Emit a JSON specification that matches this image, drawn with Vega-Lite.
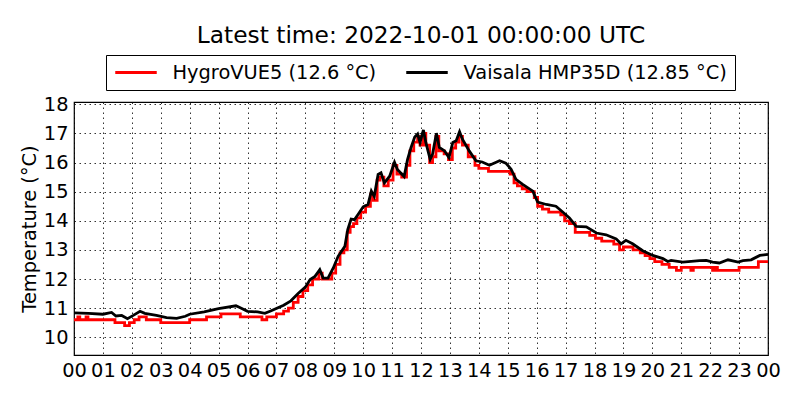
{
  "$schema": "https://vega.github.io/schema/vega-lite/v6.json",
  "description": "Air temperature from two sensors over one day.",
  "width": 694,
  "height": 253,
  "autosize": "none",
  "padding": {"left": 74, "top": 102, "right": 32, "bottom": 45},
  "background": "white",
  "title": {
    "text": "Latest time: 2022-10-01 00:00:00 UTC",
    "font": "DejaVu Sans",
    "fontSize": 23.3,
    "fontWeight": "normal",
    "color": "black",
    "anchor": "middle",
    "offset": 6
  },
  "config": {
    "font": "DejaVu Sans",
    "view": {"stroke": "black", "strokeWidth": 1.2},
    "axis": {
      "domain": false,
      "labelFont": "DejaVu Sans",
      "labelFontSize": 19.4,
      "labelColor": "black",
      "titleFont": "DejaVu Sans",
      "titleFontSize": 19.4,
      "titleFontWeight": "normal",
      "titleColor": "black",
      "ticks": false,
      "grid": true,
      "gridColor": "black",
      "gridDash": [1.5, 3.5],
      "gridWidth": 0.8
    }
  },
  "datasets": {
    "hours": [
      {"h": 1664496000000}, {"h": 1664499600000}, {"h": 1664503200000}, {"h": 1664506800000},
      {"h": 1664510400000}, {"h": 1664514000000}, {"h": 1664517600000}, {"h": 1664521200000},
      {"h": 1664524800000}, {"h": 1664528400000}, {"h": 1664532000000}, {"h": 1664535600000},
      {"h": 1664539200000}, {"h": 1664542800000}, {"h": 1664546400000}, {"h": 1664550000000},
      {"h": 1664553600000}, {"h": 1664557200000}, {"h": 1664560800000}, {"h": 1664564400000},
      {"h": 1664568000000}, {"h": 1664571600000}, {"h": 1664575200000}, {"h": 1664578800000},
      {"h": 1664582400000}
    ],
    "degrees": [
      {"d": 10}, {"d": 11}, {"d": 12}, {"d": 13}, {"d": 14}, {"d": 15}, {"d": 16}, {"d": 17}, {"d": 18}
    ]
  },
  "data": {
    "values": [
      {"t": "2022-09-30T00:00:00Z", "sensor": "HygroVUE5 (12.6 °C)", "v": 10.6},
      {"t": "2022-09-30T00:08:00Z", "sensor": "HygroVUE5 (12.6 °C)", "v": 10.7},
      {"t": "2022-09-30T00:12:00Z", "sensor": "HygroVUE5 (12.6 °C)", "v": 10.6},
      {"t": "2022-09-30T00:25:00Z", "sensor": "HygroVUE5 (12.6 °C)", "v": 10.7},
      {"t": "2022-09-30T00:29:00Z", "sensor": "HygroVUE5 (12.6 °C)", "v": 10.6},
      {"t": "2022-09-30T01:25:00Z", "sensor": "HygroVUE5 (12.6 °C)", "v": 10.5},
      {"t": "2022-09-30T01:45:00Z", "sensor": "HygroVUE5 (12.6 °C)", "v": 10.4},
      {"t": "2022-09-30T01:55:00Z", "sensor": "HygroVUE5 (12.6 °C)", "v": 10.5},
      {"t": "2022-09-30T02:05:00Z", "sensor": "HygroVUE5 (12.6 °C)", "v": 10.6},
      {"t": "2022-09-30T02:15:00Z", "sensor": "HygroVUE5 (12.6 °C)", "v": 10.7},
      {"t": "2022-09-30T02:30:00Z", "sensor": "HygroVUE5 (12.6 °C)", "v": 10.6},
      {"t": "2022-09-30T03:00:00Z", "sensor": "HygroVUE5 (12.6 °C)", "v": 10.5},
      {"t": "2022-09-30T04:00:00Z", "sensor": "HygroVUE5 (12.6 °C)", "v": 10.6},
      {"t": "2022-09-30T04:35:00Z", "sensor": "HygroVUE5 (12.6 °C)", "v": 10.7},
      {"t": "2022-09-30T05:05:00Z", "sensor": "HygroVUE5 (12.6 °C)", "v": 10.8},
      {"t": "2022-09-30T05:45:00Z", "sensor": "HygroVUE5 (12.6 °C)", "v": 10.7},
      {"t": "2022-09-30T06:30:00Z", "sensor": "HygroVUE5 (12.6 °C)", "v": 10.6},
      {"t": "2022-09-30T06:40:00Z", "sensor": "HygroVUE5 (12.6 °C)", "v": 10.7},
      {"t": "2022-09-30T07:00:00Z", "sensor": "HygroVUE5 (12.6 °C)", "v": 10.8},
      {"t": "2022-09-30T07:15:00Z", "sensor": "HygroVUE5 (12.6 °C)", "v": 10.9},
      {"t": "2022-09-30T07:25:00Z", "sensor": "HygroVUE5 (12.6 °C)", "v": 11.0},
      {"t": "2022-09-30T07:35:00Z", "sensor": "HygroVUE5 (12.6 °C)", "v": 11.2},
      {"t": "2022-09-30T07:45:00Z", "sensor": "HygroVUE5 (12.6 °C)", "v": 11.4},
      {"t": "2022-09-30T07:55:00Z", "sensor": "HygroVUE5 (12.6 °C)", "v": 11.6},
      {"t": "2022-09-30T08:05:00Z", "sensor": "HygroVUE5 (12.6 °C)", "v": 11.8},
      {"t": "2022-09-30T08:15:00Z", "sensor": "HygroVUE5 (12.6 °C)", "v": 12.0},
      {"t": "2022-09-30T08:28:00Z", "sensor": "HygroVUE5 (12.6 °C)", "v": 12.2},
      {"t": "2022-09-30T08:35:00Z", "sensor": "HygroVUE5 (12.6 °C)", "v": 12.0},
      {"t": "2022-09-30T08:55:00Z", "sensor": "HygroVUE5 (12.6 °C)", "v": 12.2},
      {"t": "2022-09-30T09:03:00Z", "sensor": "HygroVUE5 (12.6 °C)", "v": 12.5},
      {"t": "2022-09-30T09:12:00Z", "sensor": "HygroVUE5 (12.6 °C)", "v": 12.9},
      {"t": "2022-09-30T09:20:00Z", "sensor": "HygroVUE5 (12.6 °C)", "v": 13.0},
      {"t": "2022-09-30T09:27:00Z", "sensor": "HygroVUE5 (12.6 °C)", "v": 13.6},
      {"t": "2022-09-30T09:33:00Z", "sensor": "HygroVUE5 (12.6 °C)", "v": 13.8},
      {"t": "2022-09-30T09:40:00Z", "sensor": "HygroVUE5 (12.6 °C)", "v": 13.9},
      {"t": "2022-09-30T09:47:00Z", "sensor": "HygroVUE5 (12.6 °C)", "v": 14.1},
      {"t": "2022-09-30T09:55:00Z", "sensor": "HygroVUE5 (12.6 °C)", "v": 14.3},
      {"t": "2022-09-30T10:05:00Z", "sensor": "HygroVUE5 (12.6 °C)", "v": 14.5},
      {"t": "2022-09-30T10:15:00Z", "sensor": "HygroVUE5 (12.6 °C)", "v": 14.9},
      {"t": "2022-09-30T10:21:00Z", "sensor": "HygroVUE5 (12.6 °C)", "v": 14.7},
      {"t": "2022-09-30T10:29:00Z", "sensor": "HygroVUE5 (12.6 °C)", "v": 15.4},
      {"t": "2022-09-30T10:35:00Z", "sensor": "HygroVUE5 (12.6 °C)", "v": 15.5},
      {"t": "2022-09-30T10:43:00Z", "sensor": "HygroVUE5 (12.6 °C)", "v": 15.2},
      {"t": "2022-09-30T10:52:00Z", "sensor": "HygroVUE5 (12.6 °C)", "v": 15.4},
      {"t": "2022-09-30T11:02:00Z", "sensor": "HygroVUE5 (12.6 °C)", "v": 15.9},
      {"t": "2022-09-30T11:10:00Z", "sensor": "HygroVUE5 (12.6 °C)", "v": 15.6},
      {"t": "2022-09-30T11:20:00Z", "sensor": "HygroVUE5 (12.6 °C)", "v": 15.5},
      {"t": "2022-09-30T11:30:00Z", "sensor": "HygroVUE5 (12.6 °C)", "v": 15.9},
      {"t": "2022-09-30T11:37:00Z", "sensor": "HygroVUE5 (12.6 °C)", "v": 16.4},
      {"t": "2022-09-30T11:45:00Z", "sensor": "HygroVUE5 (12.6 °C)", "v": 16.7},
      {"t": "2022-09-30T11:53:00Z", "sensor": "HygroVUE5 (12.6 °C)", "v": 16.9},
      {"t": "2022-09-30T11:58:00Z", "sensor": "HygroVUE5 (12.6 °C)", "v": 16.6},
      {"t": "2022-09-30T12:05:00Z", "sensor": "HygroVUE5 (12.6 °C)", "v": 17.0},
      {"t": "2022-09-30T12:10:00Z", "sensor": "HygroVUE5 (12.6 °C)", "v": 16.6},
      {"t": "2022-09-30T12:18:00Z", "sensor": "HygroVUE5 (12.6 °C)", "v": 16.0},
      {"t": "2022-09-30T12:24:00Z", "sensor": "HygroVUE5 (12.6 °C)", "v": 16.2},
      {"t": "2022-09-30T12:31:00Z", "sensor": "HygroVUE5 (12.6 °C)", "v": 16.9},
      {"t": "2022-09-30T12:37:00Z", "sensor": "HygroVUE5 (12.6 °C)", "v": 16.4},
      {"t": "2022-09-30T12:48:00Z", "sensor": "HygroVUE5 (12.6 °C)", "v": 16.3},
      {"t": "2022-09-30T12:57:00Z", "sensor": "HygroVUE5 (12.6 °C)", "v": 16.1},
      {"t": "2022-09-30T13:05:00Z", "sensor": "HygroVUE5 (12.6 °C)", "v": 16.5},
      {"t": "2022-09-30T13:12:00Z", "sensor": "HygroVUE5 (12.6 °C)", "v": 16.7},
      {"t": "2022-09-30T13:19:00Z", "sensor": "HygroVUE5 (12.6 °C)", "v": 16.9},
      {"t": "2022-09-30T13:26:00Z", "sensor": "HygroVUE5 (12.6 °C)", "v": 16.6},
      {"t": "2022-09-30T13:38:00Z", "sensor": "HygroVUE5 (12.6 °C)", "v": 16.2},
      {"t": "2022-09-30T13:52:00Z", "sensor": "HygroVUE5 (12.6 °C)", "v": 15.9},
      {"t": "2022-09-30T14:00:00Z", "sensor": "HygroVUE5 (12.6 °C)", "v": 15.8},
      {"t": "2022-09-30T14:20:00Z", "sensor": "HygroVUE5 (12.6 °C)", "v": 15.7},
      {"t": "2022-09-30T15:05:00Z", "sensor": "HygroVUE5 (12.6 °C)", "v": 15.6},
      {"t": "2022-09-30T15:13:00Z", "sensor": "HygroVUE5 (12.6 °C)", "v": 15.3},
      {"t": "2022-09-30T15:20:00Z", "sensor": "HygroVUE5 (12.6 °C)", "v": 15.2},
      {"t": "2022-09-30T15:30:00Z", "sensor": "HygroVUE5 (12.6 °C)", "v": 15.1},
      {"t": "2022-09-30T15:40:00Z", "sensor": "HygroVUE5 (12.6 °C)", "v": 15.0},
      {"t": "2022-09-30T15:55:00Z", "sensor": "HygroVUE5 (12.6 °C)", "v": 14.8},
      {"t": "2022-09-30T16:02:00Z", "sensor": "HygroVUE5 (12.6 °C)", "v": 14.5},
      {"t": "2022-09-30T16:12:00Z", "sensor": "HygroVUE5 (12.6 °C)", "v": 14.4},
      {"t": "2022-09-30T16:25:00Z", "sensor": "HygroVUE5 (12.6 °C)", "v": 14.3},
      {"t": "2022-09-30T16:50:00Z", "sensor": "HygroVUE5 (12.6 °C)", "v": 14.2},
      {"t": "2022-09-30T16:58:00Z", "sensor": "HygroVUE5 (12.6 °C)", "v": 14.0},
      {"t": "2022-09-30T17:08:00Z", "sensor": "HygroVUE5 (12.6 °C)", "v": 13.9},
      {"t": "2022-09-30T17:20:00Z", "sensor": "HygroVUE5 (12.6 °C)", "v": 13.6},
      {"t": "2022-09-30T17:50:00Z", "sensor": "HygroVUE5 (12.6 °C)", "v": 13.5},
      {"t": "2022-09-30T18:02:00Z", "sensor": "HygroVUE5 (12.6 °C)", "v": 13.4},
      {"t": "2022-09-30T18:15:00Z", "sensor": "HygroVUE5 (12.6 °C)", "v": 13.3},
      {"t": "2022-09-30T18:40:00Z", "sensor": "HygroVUE5 (12.6 °C)", "v": 13.2},
      {"t": "2022-09-30T18:52:00Z", "sensor": "HygroVUE5 (12.6 °C)", "v": 13.0},
      {"t": "2022-09-30T19:00:00Z", "sensor": "HygroVUE5 (12.6 °C)", "v": 13.1},
      {"t": "2022-09-30T19:20:00Z", "sensor": "HygroVUE5 (12.6 °C)", "v": 13.0},
      {"t": "2022-09-30T19:35:00Z", "sensor": "HygroVUE5 (12.6 °C)", "v": 12.9},
      {"t": "2022-09-30T19:45:00Z", "sensor": "HygroVUE5 (12.6 °C)", "v": 12.8},
      {"t": "2022-09-30T19:55:00Z", "sensor": "HygroVUE5 (12.6 °C)", "v": 12.7},
      {"t": "2022-09-30T20:05:00Z", "sensor": "HygroVUE5 (12.6 °C)", "v": 12.6},
      {"t": "2022-09-30T20:20:00Z", "sensor": "HygroVUE5 (12.6 °C)", "v": 12.5},
      {"t": "2022-09-30T20:35:00Z", "sensor": "HygroVUE5 (12.6 °C)", "v": 12.4},
      {"t": "2022-09-30T20:50:00Z", "sensor": "HygroVUE5 (12.6 °C)", "v": 12.3},
      {"t": "2022-09-30T21:00:00Z", "sensor": "HygroVUE5 (12.6 °C)", "v": 12.4},
      {"t": "2022-09-30T21:20:00Z", "sensor": "HygroVUE5 (12.6 °C)", "v": 12.3},
      {"t": "2022-09-30T21:25:00Z", "sensor": "HygroVUE5 (12.6 °C)", "v": 12.4},
      {"t": "2022-09-30T22:05:00Z", "sensor": "HygroVUE5 (12.6 °C)", "v": 12.3},
      {"t": "2022-09-30T22:10:00Z", "sensor": "HygroVUE5 (12.6 °C)", "v": 12.4},
      {"t": "2022-09-30T22:15:00Z", "sensor": "HygroVUE5 (12.6 °C)", "v": 12.3},
      {"t": "2022-09-30T23:00:00Z", "sensor": "HygroVUE5 (12.6 °C)", "v": 12.4},
      {"t": "2022-09-30T23:40:00Z", "sensor": "HygroVUE5 (12.6 °C)", "v": 12.6},
      {"t": "2022-10-01T00:00:00Z", "sensor": "HygroVUE5 (12.6 °C)", "v": 12.6},
      {"t": "2022-09-30T00:00:00Z", "sensor": "Vaisala HMP35D (12.85 °C)", "v": 10.84},
      {"t": "2022-09-30T00:30:00Z", "sensor": "Vaisala HMP35D (12.85 °C)", "v": 10.82},
      {"t": "2022-09-30T01:00:00Z", "sensor": "Vaisala HMP35D (12.85 °C)", "v": 10.79},
      {"t": "2022-09-30T01:18:00Z", "sensor": "Vaisala HMP35D (12.85 °C)", "v": 10.85},
      {"t": "2022-09-30T01:27:00Z", "sensor": "Vaisala HMP35D (12.85 °C)", "v": 10.73},
      {"t": "2022-09-30T01:39:00Z", "sensor": "Vaisala HMP35D (12.85 °C)", "v": 10.75},
      {"t": "2022-09-30T01:51:00Z", "sensor": "Vaisala HMP35D (12.85 °C)", "v": 10.64},
      {"t": "2022-09-30T02:03:00Z", "sensor": "Vaisala HMP35D (12.85 °C)", "v": 10.75},
      {"t": "2022-09-30T02:17:00Z", "sensor": "Vaisala HMP35D (12.85 °C)", "v": 10.89},
      {"t": "2022-09-30T02:27:00Z", "sensor": "Vaisala HMP35D (12.85 °C)", "v": 10.82},
      {"t": "2022-09-30T02:51:00Z", "sensor": "Vaisala HMP35D (12.85 °C)", "v": 10.75},
      {"t": "2022-09-30T03:12:00Z", "sensor": "Vaisala HMP35D (12.85 °C)", "v": 10.67},
      {"t": "2022-09-30T03:33:00Z", "sensor": "Vaisala HMP35D (12.85 °C)", "v": 10.65},
      {"t": "2022-09-30T03:51:00Z", "sensor": "Vaisala HMP35D (12.85 °C)", "v": 10.72},
      {"t": "2022-09-30T04:00:00Z", "sensor": "Vaisala HMP35D (12.85 °C)", "v": 10.79},
      {"t": "2022-09-30T04:30:00Z", "sensor": "Vaisala HMP35D (12.85 °C)", "v": 10.87},
      {"t": "2022-09-30T05:00:00Z", "sensor": "Vaisala HMP35D (12.85 °C)", "v": 10.98},
      {"t": "2022-09-30T05:36:00Z", "sensor": "Vaisala HMP35D (12.85 °C)", "v": 11.08},
      {"t": "2022-09-30T05:45:00Z", "sensor": "Vaisala HMP35D (12.85 °C)", "v": 11.01},
      {"t": "2022-09-30T06:00:00Z", "sensor": "Vaisala HMP35D (12.85 °C)", "v": 10.89},
      {"t": "2022-09-30T06:21:00Z", "sensor": "Vaisala HMP35D (12.85 °C)", "v": 10.87},
      {"t": "2022-09-30T06:36:00Z", "sensor": "Vaisala HMP35D (12.85 °C)", "v": 10.82},
      {"t": "2022-09-30T06:48:00Z", "sensor": "Vaisala HMP35D (12.85 °C)", "v": 10.9},
      {"t": "2022-09-30T07:15:00Z", "sensor": "Vaisala HMP35D (12.85 °C)", "v": 11.1},
      {"t": "2022-09-30T07:30:00Z", "sensor": "Vaisala HMP35D (12.85 °C)", "v": 11.25},
      {"t": "2022-09-30T07:45:00Z", "sensor": "Vaisala HMP35D (12.85 °C)", "v": 11.5},
      {"t": "2022-09-30T08:00:00Z", "sensor": "Vaisala HMP35D (12.85 °C)", "v": 11.72},
      {"t": "2022-09-30T08:10:00Z", "sensor": "Vaisala HMP35D (12.85 °C)", "v": 11.98},
      {"t": "2022-09-30T08:20:00Z", "sensor": "Vaisala HMP35D (12.85 °C)", "v": 12.09},
      {"t": "2022-09-30T08:30:00Z", "sensor": "Vaisala HMP35D (12.85 °C)", "v": 12.32},
      {"t": "2022-09-30T08:37:00Z", "sensor": "Vaisala HMP35D (12.85 °C)", "v": 12.03},
      {"t": "2022-09-30T08:47:00Z", "sensor": "Vaisala HMP35D (12.85 °C)", "v": 12.03},
      {"t": "2022-09-30T08:58:00Z", "sensor": "Vaisala HMP35D (12.85 °C)", "v": 12.38},
      {"t": "2022-09-30T09:08:00Z", "sensor": "Vaisala HMP35D (12.85 °C)", "v": 12.78},
      {"t": "2022-09-30T09:22:00Z", "sensor": "Vaisala HMP35D (12.85 °C)", "v": 13.12},
      {"t": "2022-09-30T09:28:00Z", "sensor": "Vaisala HMP35D (12.85 °C)", "v": 13.7},
      {"t": "2022-09-30T09:35:00Z", "sensor": "Vaisala HMP35D (12.85 °C)", "v": 14.06},
      {"t": "2022-09-30T09:42:00Z", "sensor": "Vaisala HMP35D (12.85 °C)", "v": 14.04},
      {"t": "2022-09-30T09:49:00Z", "sensor": "Vaisala HMP35D (12.85 °C)", "v": 14.21},
      {"t": "2022-09-30T10:00:00Z", "sensor": "Vaisala HMP35D (12.85 °C)", "v": 14.48},
      {"t": "2022-09-30T10:10:00Z", "sensor": "Vaisala HMP35D (12.85 °C)", "v": 14.56},
      {"t": "2022-09-30T10:17:00Z", "sensor": "Vaisala HMP35D (12.85 °C)", "v": 15.02},
      {"t": "2022-09-30T10:23:00Z", "sensor": "Vaisala HMP35D (12.85 °C)", "v": 14.84},
      {"t": "2022-09-30T10:31:00Z", "sensor": "Vaisala HMP35D (12.85 °C)", "v": 15.59},
      {"t": "2022-09-30T10:37:00Z", "sensor": "Vaisala HMP35D (12.85 °C)", "v": 15.65},
      {"t": "2022-09-30T10:44:00Z", "sensor": "Vaisala HMP35D (12.85 °C)", "v": 15.3},
      {"t": "2022-09-30T10:55:00Z", "sensor": "Vaisala HMP35D (12.85 °C)", "v": 15.53},
      {"t": "2022-09-30T11:05:00Z", "sensor": "Vaisala HMP35D (12.85 °C)", "v": 16.01},
      {"t": "2022-09-30T11:11:00Z", "sensor": "Vaisala HMP35D (12.85 °C)", "v": 15.76},
      {"t": "2022-09-30T11:25:00Z", "sensor": "Vaisala HMP35D (12.85 °C)", "v": 15.52},
      {"t": "2022-09-30T11:32:00Z", "sensor": "Vaisala HMP35D (12.85 °C)", "v": 16.1},
      {"t": "2022-09-30T11:39:00Z", "sensor": "Vaisala HMP35D (12.85 °C)", "v": 16.5},
      {"t": "2022-09-30T11:47:00Z", "sensor": "Vaisala HMP35D (12.85 °C)", "v": 16.88},
      {"t": "2022-09-30T11:53:00Z", "sensor": "Vaisala HMP35D (12.85 °C)", "v": 16.98},
      {"t": "2022-09-30T11:58:00Z", "sensor": "Vaisala HMP35D (12.85 °C)", "v": 16.69},
      {"t": "2022-09-30T12:05:00Z", "sensor": "Vaisala HMP35D (12.85 °C)", "v": 17.12},
      {"t": "2022-09-30T12:10:00Z", "sensor": "Vaisala HMP35D (12.85 °C)", "v": 16.69},
      {"t": "2022-09-30T12:19:00Z", "sensor": "Vaisala HMP35D (12.85 °C)", "v": 16.11},
      {"t": "2022-09-30T12:24:00Z", "sensor": "Vaisala HMP35D (12.85 °C)", "v": 16.29},
      {"t": "2022-09-30T12:32:00Z", "sensor": "Vaisala HMP35D (12.85 °C)", "v": 17.01},
      {"t": "2022-09-30T12:38:00Z", "sensor": "Vaisala HMP35D (12.85 °C)", "v": 16.52},
      {"t": "2022-09-30T12:49:00Z", "sensor": "Vaisala HMP35D (12.85 °C)", "v": 16.4},
      {"t": "2022-09-30T12:58:00Z", "sensor": "Vaisala HMP35D (12.85 °C)", "v": 16.17},
      {"t": "2022-09-30T13:06:00Z", "sensor": "Vaisala HMP35D (12.85 °C)", "v": 16.69},
      {"t": "2022-09-30T13:13:00Z", "sensor": "Vaisala HMP35D (12.85 °C)", "v": 16.75},
      {"t": "2022-09-30T13:20:00Z", "sensor": "Vaisala HMP35D (12.85 °C)", "v": 17.06},
      {"t": "2022-09-30T13:26:00Z", "sensor": "Vaisala HMP35D (12.85 °C)", "v": 16.8},
      {"t": "2022-09-30T13:40:00Z", "sensor": "Vaisala HMP35D (12.85 °C)", "v": 16.4},
      {"t": "2022-09-30T13:54:00Z", "sensor": "Vaisala HMP35D (12.85 °C)", "v": 16.06},
      {"t": "2022-09-30T14:07:00Z", "sensor": "Vaisala HMP35D (12.85 °C)", "v": 16.02},
      {"t": "2022-09-30T14:22:00Z", "sensor": "Vaisala HMP35D (12.85 °C)", "v": 15.91},
      {"t": "2022-09-30T14:43:00Z", "sensor": "Vaisala HMP35D (12.85 °C)", "v": 16.06},
      {"t": "2022-09-30T14:56:00Z", "sensor": "Vaisala HMP35D (12.85 °C)", "v": 15.98},
      {"t": "2022-09-30T15:07:00Z", "sensor": "Vaisala HMP35D (12.85 °C)", "v": 15.77},
      {"t": "2022-09-30T15:17:00Z", "sensor": "Vaisala HMP35D (12.85 °C)", "v": 15.42},
      {"t": "2022-09-30T15:31:00Z", "sensor": "Vaisala HMP35D (12.85 °C)", "v": 15.25},
      {"t": "2022-09-30T15:52:00Z", "sensor": "Vaisala HMP35D (12.85 °C)", "v": 15.02},
      {"t": "2022-09-30T16:02:00Z", "sensor": "Vaisala HMP35D (12.85 °C)", "v": 14.64},
      {"t": "2022-09-30T16:20:00Z", "sensor": "Vaisala HMP35D (12.85 °C)", "v": 14.56},
      {"t": "2022-09-30T16:40:00Z", "sensor": "Vaisala HMP35D (12.85 °C)", "v": 14.5},
      {"t": "2022-09-30T16:54:00Z", "sensor": "Vaisala HMP35D (12.85 °C)", "v": 14.3},
      {"t": "2022-09-30T17:08:00Z", "sensor": "Vaisala HMP35D (12.85 °C)", "v": 14.1},
      {"t": "2022-09-30T17:22:00Z", "sensor": "Vaisala HMP35D (12.85 °C)", "v": 13.81},
      {"t": "2022-09-30T17:43:00Z", "sensor": "Vaisala HMP35D (12.85 °C)", "v": 13.79},
      {"t": "2022-09-30T18:04:00Z", "sensor": "Vaisala HMP35D (12.85 °C)", "v": 13.58},
      {"t": "2022-09-30T18:24:00Z", "sensor": "Vaisala HMP35D (12.85 °C)", "v": 13.52},
      {"t": "2022-09-30T18:45:00Z", "sensor": "Vaisala HMP35D (12.85 °C)", "v": 13.38},
      {"t": "2022-09-30T18:55:00Z", "sensor": "Vaisala HMP35D (12.85 °C)", "v": 13.21},
      {"t": "2022-09-30T19:05:00Z", "sensor": "Vaisala HMP35D (12.85 °C)", "v": 13.33},
      {"t": "2022-09-30T19:19:00Z", "sensor": "Vaisala HMP35D (12.85 °C)", "v": 13.21},
      {"t": "2022-09-30T19:40:00Z", "sensor": "Vaisala HMP35D (12.85 °C)", "v": 12.97},
      {"t": "2022-09-30T20:01:00Z", "sensor": "Vaisala HMP35D (12.85 °C)", "v": 12.81},
      {"t": "2022-09-30T20:22:00Z", "sensor": "Vaisala HMP35D (12.85 °C)", "v": 12.7},
      {"t": "2022-09-30T20:32:00Z", "sensor": "Vaisala HMP35D (12.85 °C)", "v": 12.6},
      {"t": "2022-09-30T20:39:00Z", "sensor": "Vaisala HMP35D (12.85 °C)", "v": 12.64},
      {"t": "2022-09-30T21:03:00Z", "sensor": "Vaisala HMP35D (12.85 °C)", "v": 12.58},
      {"t": "2022-09-30T21:38:00Z", "sensor": "Vaisala HMP35D (12.85 °C)", "v": 12.63},
      {"t": "2022-09-30T21:52:00Z", "sensor": "Vaisala HMP35D (12.85 °C)", "v": 12.64},
      {"t": "2022-09-30T22:05:00Z", "sensor": "Vaisala HMP35D (12.85 °C)", "v": 12.58},
      {"t": "2022-09-30T22:19:00Z", "sensor": "Vaisala HMP35D (12.85 °C)", "v": 12.55},
      {"t": "2022-09-30T22:37:00Z", "sensor": "Vaisala HMP35D (12.85 °C)", "v": 12.66},
      {"t": "2022-09-30T22:58:00Z", "sensor": "Vaisala HMP35D (12.85 °C)", "v": 12.58},
      {"t": "2022-09-30T23:08:00Z", "sensor": "Vaisala HMP35D (12.85 °C)", "v": 12.63},
      {"t": "2022-09-30T23:25:00Z", "sensor": "Vaisala HMP35D (12.85 °C)", "v": 12.66},
      {"t": "2022-09-30T23:43:00Z", "sensor": "Vaisala HMP35D (12.85 °C)", "v": 12.81},
      {"t": "2022-10-01T00:00:00Z", "sensor": "Vaisala HMP35D (12.85 °C)", "v": 12.85}
    ]
  },
  "encoding": {
    "x": {
      "field": "t",
      "type": "temporal",
      "title": null,
      "scale": {"type": "utc", "domain": [1664496000000, 1664582400000], "nice": false},
      "axis": {
        "labelExpr": "utcFormat(datum.value, '%H')",
        "values": [1664496000000, 1664499600000, 1664503200000, 1664506800000, 1664510400000, 1664514000000, 1664517600000, 1664521200000, 1664524800000, 1664528400000, 1664532000000, 1664535600000, 1664539200000, 1664542800000, 1664546400000, 1664550000000, 1664553600000, 1664557200000, 1664560800000, 1664564400000, 1664568000000, 1664571600000, 1664575200000, 1664578800000, 1664582400000],
        "labelPadding": 6,
        "labelFlush": false,
        "labelOverlap": false
      }
    },
    "y": {
      "field": "v",
      "type": "quantitative",
      "title": "Temperature (°C)",
      "scale": {"domain": [9.39, 18.08], "nice": false, "zero": false},
      "axis": {
        "values": [10, 11, 12, 13, 14, 15, 16, 17, 18],
        "labelPadding": 6,
        "titlePadding": 4
      }
    },
    "color": {
      "field": "sensor",
      "type": "nominal",
      "scale": {
        "domain": ["HygroVUE5 (12.6 °C)", "Vaisala HMP35D (12.85 °C)"],
        "range": ["#ff0000", "#000000"]
      },
      "legend": {
        "title": null,
        "orient": "none",
        "legendX": 32,
        "legendY": -47,
        "direction": "horizontal",
        "columns": 2,
        "symbolType": "stroke",
        "symbolSize": 1722,
        "symbolStrokeWidth": 2.8,
        "clipHeight": 20,
        "labelFont": "DejaVu Sans",
        "labelFontSize": 19.4,
        "labelColor": "black",
        "labelLimit": 400,
        "labelOffset": 14,
        "columnPadding": 28,
        "padding": 7.5,
        "strokeColor": "black",
        "fillColor": "white",
        "cornerRadius": 0
      }
    }
  },
  "layer": [
    {
      "transform": [{"filter": {"field": "sensor", "equal": "HygroVUE5 (12.6 °C)"}}],
      "mark": {"type": "line", "strokeWidth": 2.8, "interpolate": "step-after"}
    },
    {
      "transform": [{"filter": {"field": "sensor", "equal": "Vaisala HMP35D (12.85 °C)"}}],
      "mark": {"type": "line", "strokeWidth": 2.8}
    },
    {
      "data": {"name": "hours"},
      "mark": {"type": "tick", "orient": "vertical", "size": 8, "thickness": 1, "clip": true},
      "encoding": {
        "x": {"field": "h", "type": "temporal", "title": null},
        "y": {"datum": 9.39},
        "color": {"value": "black"}
      }
    },
    {
      "data": {"name": "hours"},
      "mark": {"type": "tick", "orient": "vertical", "size": 8, "thickness": 1, "clip": true},
      "encoding": {
        "x": {"field": "h", "type": "temporal", "title": null},
        "y": {"datum": 18.08},
        "color": {"value": "black"}
      }
    },
    {
      "data": {"name": "degrees"},
      "mark": {"type": "tick", "orient": "horizontal", "size": 8, "thickness": 1, "clip": true},
      "encoding": {
        "y": {"field": "d", "type": "quantitative", "title": "Temperature (°C)"},
        "x": {"datum": 1664496000000, "type": "temporal"},
        "color": {"value": "black"}
      }
    },
    {
      "data": {"name": "degrees"},
      "mark": {"type": "tick", "orient": "horizontal", "size": 8, "thickness": 1, "clip": true},
      "encoding": {
        "y": {"field": "d", "type": "quantitative", "title": "Temperature (°C)"},
        "x": {"datum": 1664582400000, "type": "temporal"},
        "color": {"value": "black"}
      }
    }
  ]
}
